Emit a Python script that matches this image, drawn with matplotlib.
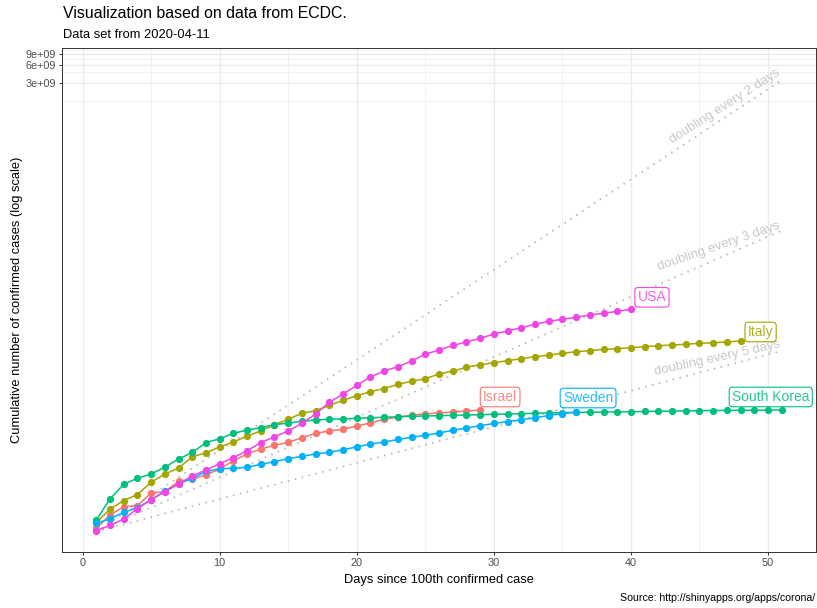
import numpy as np
import matplotlib
matplotlib.use("Agg")
import matplotlib.pyplot as plt
from matplotlib.ticker import FixedLocator, NullFormatter

plt.rcParams['font.family'] = ['Liberation Sans', 'DejaVu Sans']

###### Data (cumulative confirmed cases, day 1 = first day with >= 100) ######
usa = [103, 127, 162, 240, 340, 462, 620, 844, 1062, 1352,
       1702, 2224, 3027, 3811, 4742, 6368, 9099, 14256, 19600, 27350,
       37670, 47430, 55850, 69500, 89950, 106200, 126200, 144200, 166300, 195900,
       219800, 249500, 284400, 319200, 344400, 372400, 406400, 433600, 468800, 505800]
italy = [142, 235, 329, 414, 662, 904, 1146, 1762, 2061, 2565,
         3105, 3909, 4742, 6039, 7430, 9350, 10330, 12700, 15380, 18360,
         21420, 24210, 28440, 31920, 35250, 42270, 47430, 54580, 60390, 65160,
         70310, 76030, 82030, 87500, 93500, 99400, 103300, 109000, 111500, 115900,
         120500, 125100, 128500, 132100, 137100, 140300, 144200, 150000]
south_korea = [156, 348, 615, 774, 910, 1178, 1618, 2077, 3027, 3524,
               4335, 4920, 5380, 6039, 6442, 6873, 7228, 7430, 7516, 7725,
               7889, 8017, 8204, 8337, 8433, 8531, 8650, 8750, 8851, 8995,
               9099, 9204, 9354, 9462, 9572, 9640, 9727, 9795, 9863, 9931,
               10020, 10090, 10160, 10250, 10330, 10400, 10440, 10490, 10510, 10560,
               10620]
israel = [113, 189, 259, 270, 439, 462, 687, 743, 885, 1089,
          1517, 1960, 2377, 2735, 3069, 3664, 4335, 4742, 5058, 5741,
          6442, 7430, 8017, 8750, 9099, 9462, 9817, 10210, 10620]
sweden = [137, 163, 209, 249, 340, 470, 620, 771, 1002, 1114,
          1132, 1178, 1321, 1459, 1637, 1795, 1960, 2094, 2312, 2565,
          2877, 3105, 3420, 3724, 4018, 4385, 4864, 5321, 5808, 6324,
          6823, 7311, 7889, 8590, 9268, 9817]

countries = ["Israel", "Italy", "South Korea", "Sweden", "USA"]
series = [israel, italy, south_korea, sweden, usa]
colors = ["#F8766D", "#A3A500", "#00BF7D", "#00B0F6", "#F046E6"]
# label offsets from last point (pixels, x right / y up)
label_off = [(20, 13), (20, 9), (-11, 13), (12, 14), (21, 12)]

doubling_days = [2, 3, 5]
doubling_angle = [32.5, 19, 12.5]
doubling_off = [6, 2, 4]
start_cases = 100
last_day = 51

fig = plt.figure(figsize=(8.17, 6.08), dpi=100)
ax = fig.add_axes([62/817, 56/608, 754/817, 503.7/608])
ax.set_yscale('log')

# doubling reference lines
for d, ang, off in zip(doubling_days, doubling_angle, doubling_off):
    y_end = start_cases * 2 ** ((last_day - 1) / d)
    ax.plot([1, last_day], [start_cases, y_end], color='#BDBDBD', lw=1.5,
            ls=(0, (0.01, 3.4)), dash_capstyle='round', zorder=1.5)
    ax.annotate("doubling every %d days" % d, xy=(last_day, y_end),
                xytext=(-1, off), textcoords='offset pixels',
                ha='right', va='baseline', rotation=ang, rotation_mode='anchor',
                color='#C8C8C8', fontsize=9.5, zorder=2)

for name, vals, c, (dx, dy) in zip(countries, series, colors, label_off):
    days = np.arange(1, len(vals) + 1)
    ax.plot(days, vals, color=c, lw=1.1, marker='o', ms=4.2, zorder=3)
    ax.annotate(name, xy=(days[-1], vals[-1]), xytext=(dx, dy),
                textcoords='offset pixels', ha='center', va='center',
                fontsize=10, color=c, alpha=0.85, zorder=5,
                bbox=dict(boxstyle='round,pad=0.2,rounding_size=0.25',
                          fc='white', ec=c, lw=0.8))

ax.set_xlim(-1.5, 53.5)
ax.set_ylim(10 ** 1.659, 10 ** 10.054)

ax.xaxis.set_major_locator(FixedLocator([0, 10, 20, 30, 40, 50]))
ax.xaxis.set_minor_locator(FixedLocator([5, 15, 25, 35, 45]))
ax.yaxis.set_major_locator(FixedLocator([3e9, 6e9, 9e9]))
ax.yaxis.set_minor_locator(FixedLocator([1.5e9, 4.5e9, 7.5e9, 10.5e9]))
ax.set_yticklabels(["3e+09", "6e+09", "9e+09"])
ax.yaxis.set_minor_formatter(NullFormatter())

ax.grid(which='major', color='#EBEBEB', lw=1.0)
ax.grid(which='minor', color='#EBEBEB', lw=0.5)
ax.set_axisbelow(True)
ax.tick_params(which='major', labelsize=7.8, labelcolor='#4D4D4D', color='#333333',
               length=2.5, width=0.7, pad=2)
ax.tick_params(which='minor', length=0)
for s in ax.spines.values():
    s.set_color('#333333')
    s.set_linewidth(0.7)

fig.text(63/817, 1 - 18.3/608, "Visualization based on data from ECDC.",
         fontsize=11.4, ha='left', va='baseline')
fig.text(63/817, 1 - 38.3/608, "Data set from 2020-04-11",
         fontsize=9.3, ha='left', va='baseline')
fig.text(439/817, 1 - 583/608, "Days since 100th confirmed case",
         fontsize=9.3, ha='center', va='baseline')
fig.text(17/817, 1 - 300/608, "Cumulative number of confirmed cases (log scale)",
         fontsize=9.3, ha='center', va='center', rotation=90)
fig.text(815/817, 1 - 601/608, "Source: http://shinyapps.org/apps/corona/",
         fontsize=7.6, ha='right', va='baseline')

fig.savefig("out.png", dpi=100)
